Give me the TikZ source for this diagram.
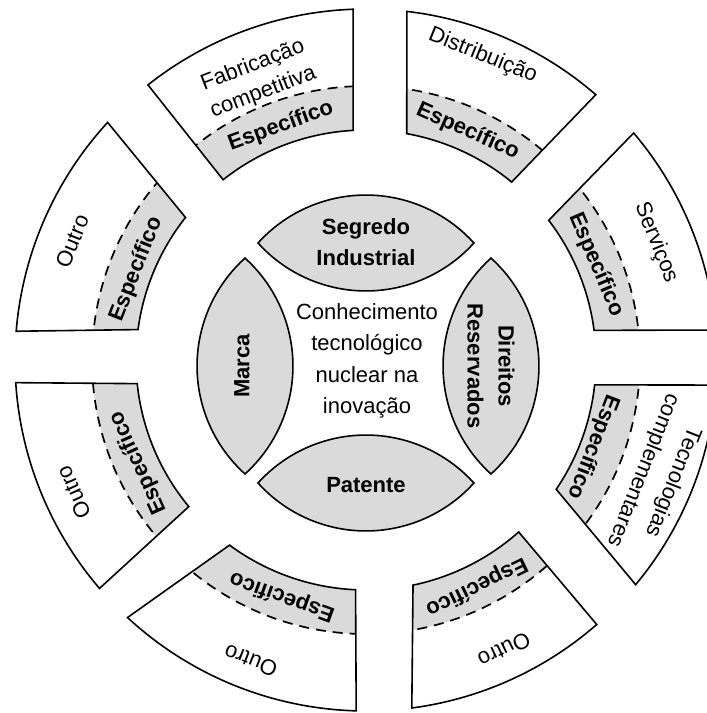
\documentclass[tikz,border=0pt]{standalone}
\usepackage{fontspec}
\setmainfont{Liberation Sans}
\definecolor{lightfill}{RGB}{218,218,218}
\tikzset{
  outline/.style={draw=black, line width=1.6pt, line join=miter},
  dashline/.style={draw=black, line width=1.7pt, dash pattern=on 10pt off 7pt},
  lensshape/.style={draw=black, line width=1.6pt, fill=lightfill},
  lab/.style={font=\fontsize{22}{29}\selectfont, align=center, inner sep=0pt},
  spec/.style={font=\fontsize{22}{29}\selectfont\bfseries, align=center, inner sep=0pt},
  lenslab/.style={font=\fontsize{22}{31}\selectfont\bfseries, align=center, inner sep=0pt},
  midlab/.style={font=\fontsize{22}{31.5}\selectfont, align=center, inner sep=0pt}
}
% #1 outer start, #2 inner start, #3 inner end, #4 outer end (clockwise)
\newcommand{\ringpart}[4]{%
  \begin{scope}
    \clip (#1:351pt) arc[start angle=#1, end angle=#4, radius=351pt] -- (#3:230pt) arc[start angle=#3, end angle=#2, radius=230pt] -- cycle;
    \fill[lightfill] (0,0) circle[radius=274pt];
    \draw[dashline] (0,0) circle[radius=274pt];
  \end{scope}
  \draw[outline] (#1:351pt) arc[start angle=#1, end angle=#4, radius=351pt] -- (#3:230pt) arc[start angle=#3, end angle=#2, radius=230pt] -- cycle;
}
% horizontal lens around origin, half length 108, bulge 48
\newcommand{\lensbody}{%
  \draw[lensshape] (-108,0) arc[start angle=137.9, end angle=42.1, radius=145.5pt]
    arc[start angle=-42.1, end angle=-137.9, radius=145.5pt] -- cycle;
}
\begin{document}
\begin{tikzpicture}[x=1pt,y=1pt]
\useasboundingbox (-366,-353) rectangle (341,360);
\fill[white] (-366,-353) rectangle (341,360);
\clip (-366,-353) rectangle (341,360);

% outer ring parts
\ringpart{128.4}{128.4}{93.2}{92.1}
\ringpart{83.3}{79.8}{50.7}{49.1}
\ringpart{40.3}{37.4}{7.4}{4.9}
\ringpart{-4.1}{-6.2}{-34.2}{-39.8}
\ringpart{-48.9}{-48.4}{-78.2}{-82.5}
\ringpart{-91.6}{-92.6}{-126.4}{-132.8}
\ringpart{-139.4}{-140.4}{-174.1}{-176.3}
\ringpart{175.3}{172.4}{141.7}{137.4}

% labels of ring parts
\node[lab, rotate=21] (fab) at (111:301pt) {Fabricação\\competitiva};
\node[spec, rotate=20] (fabs) at (110:249pt) {Específico};
\node[lab, rotate=-22] (dist) at (69:326pt) {Distribuição};
\node[spec, rotate=-24] (dists) at (66:250pt) {Específico};
\node[lab, rotate=-68] (serv) at (22:313pt) {Serviços};
\node[spec, rotate=-67] (servs) at (22.5:249pt) {Específico};
\node[lab, rotate=-111.7, font=\fontsize{22}{32}\selectfont] (tec) at (338.3:314pt) {Tecnologias\\complementares};
\node[spec, rotate=-111] (tecs) at (339:243pt) {Específico};
\node[lab, rotate=205.5] (obr) at (295.5:321pt) {Outro};
\node[spec, rotate=206] (obrs) at (296:252pt) {Específico};
\node[lab, rotate=159] (obl) at (249:322pt) {Outro};
\node[spec, rotate=160] (obls) at (250.5:251pt) {Específico};
\node[lab, rotate=114.3] (oll) at (204.3:321pt) {Outro};
\node[spec, rotate=114.3] (olls) at (204.3:250pt) {Específico};
\node[lab, rotate=68] (oul) at (158:317pt) {Outro};
\node[spec, rotate=68.5] (ouls) at (158.5:247pt) {Específico};

% lenses
\begin{scope}[shift={(0,117)}]\lensbody\end{scope}
\begin{scope}[shift={(0,-123)}]\lensbody\end{scope}
\begin{scope}[shift={(-121,-6)}, rotate=90]\lensbody\end{scope}
\begin{scope}[shift={(125,-6)}, rotate=90]\lensbody\end{scope}

\node[lenslab] (seg) at (0,118) {Segredo\\Industrial};
\node[lenslab] (pat) at (0,-125) {Patente};
\node[lenslab, rotate=90] (mar) at (-124,-6) {Marca};
\node[lenslab, rotate=-90] (dir) at (125,-6) {Direitos\\Reservados};

\node[midlab] (core) at (1,-1) {Conhecimento\\tecnológico\\nuclear na\\inovação};
\end{tikzpicture}
\end{document}
